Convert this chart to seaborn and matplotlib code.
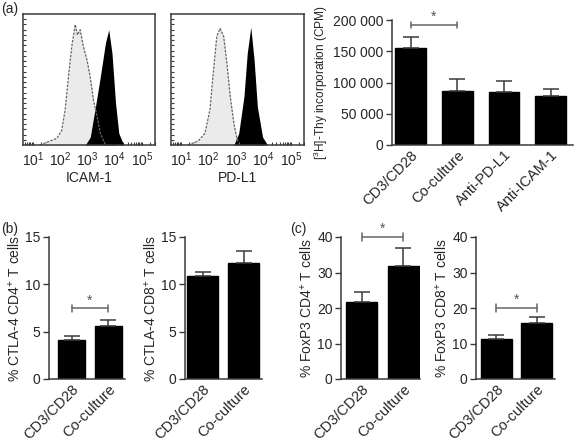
import numpy as np
import matplotlib
matplotlib.use("Agg")
import matplotlib.pyplot as plt
import seaborn as sns

sns.set_theme(style="white")
plt.rcParams['font.family'] = ['Liberation Sans', 'DejaVu Sans']
plt.rcParams['mathtext.fontset'] = 'custom'
plt.rcParams['mathtext.rm'] = 'Liberation Sans'
plt.rcParams['mathtext.it'] = 'Liberation Sans'

# ---- data ----
# flow histograms: log10 fluorescence vs relative count
icam_iso_x = [1.25, 1.62, 1.87, 2.05, 2.18, 2.30, 2.42, 2.55, 2.63, 2.73, 2.85, 2.98, 3.10, 3.22, 3.35, 3.47, 3.66]
icam_iso_y = [0.0, 0.03, 0.05, 0.11, 0.27, 0.52, 0.75, 0.92, 0.84, 0.88, 0.75, 0.65, 0.52, 0.34, 0.22, 0.09, 0.0]
icam_x = [2.92, 3.10, 3.29, 3.47, 3.66, 3.78, 3.90, 4.03, 4.15, 4.33]
icam_y = [0.0, 0.06, 0.29, 0.52, 0.78, 0.88, 0.70, 0.32, 0.09, 0.0]
pdl1_iso_x = [1.25, 1.62, 1.87, 2.05, 2.18, 2.30, 2.42, 2.55, 2.67, 2.79, 2.92, 3.04, 3.16]
pdl1_iso_y = [0.0, 0.03, 0.09, 0.27, 0.57, 0.83, 0.89, 0.83, 0.62, 0.37, 0.17, 0.04, 0.0]
pdl1_x = [2.92, 3.10, 3.29, 3.41, 3.54, 3.66, 3.78, 3.97, 4.15]
pdl1_y = [0.0, 0.09, 0.37, 0.70, 0.90, 0.65, 0.29, 0.06, 0.0]

prolif_groups = ["CD3/CD28", "Co-culture", "Anti-PD-L1", "Anti-ICAM-1"]
prolif_mean = [154700, 86900, 85300, 78400]
prolif_err = [18600, 18100, 16600, 11700]

two_groups = ["CD3/CD28", "Co-culture"]
ctla4_cd4 = [4.1, 5.6]
ctla4_cd4_err = [0.42, 0.63]
ctla4_cd8 = [10.9, 12.3]
ctla4_cd8_err = [0.37, 1.2]
foxp3_cd4 = [21.6, 31.9]
foxp3_cd4_err = [3.0, 5.0]
foxp3_cd8 = [11.4, 15.9]
foxp3_cd8_err = [1.0, 1.7]

W, H = 577, 442
fig = plt.figure(figsize=(W / 100, H / 100), dpi=100)
FS = 10
GREY = '#3a3a3a'


def px_axes(l, t, r, b):
    return fig.add_axes([l / W, 1 - b / H, (r - l) / W, (b - t) / H])


def hist_panel(ax, xi, yi, xs, ys, label):
    ax.fill_between(xi, yi, color='#ebebeb', lw=0)
    ax.plot(xi, yi, color='#666666', lw=0.9, ls=(0, (2, 1)))
    ax.fill_between(xs, ys, color='black', lw=0)
    ax.set_xlim(0.63, 5.48)
    ax.set_ylim(0, 1.0)
    ax.set_xticks([1, 2, 3, 4, 5])
    ax.set_xticklabels([f"$10^{{{k}}}$" for k in range(1, 6)], fontsize=FS)
    minor = np.log10(np.outer(10.0 ** np.arange(0, 6), np.arange(2, 10)).ravel())
    ax.set_xticks(minor[(minor > 0.63) & (minor < 5.48)], minor=True)
    ax.set_yticks(np.arange(0.04, 1.0, 0.04))
    ax.set_yticklabels([])
    ax.tick_params(axis='y', direction='in', length=2.5, width=0.8, color=GREY, left=True)
    ax.tick_params(axis='x', which='both', direction='in', length=2, width=0.8, color=GREY,
                   bottom=True, pad=4)
    ax.set_xlabel(label, fontsize=FS, labelpad=1)
    for s in ax.spines.values():
        s.set_color(GREY)
        s.set_linewidth(1.1)


def bar_panel(ax, groups, vals, errs, ymax, step, xlim, width, ylabel, fmt=None, ylfs=FS):
    sns.barplot(x=groups, y=vals, color='black', width=width, ax=ax,
                saturation=1, edgecolor='black', errorbar=None)
    ax.errorbar(range(len(vals)), vals, yerr=[np.zeros(len(vals)), errs], fmt='none',
                ecolor=GREY, elinewidth=1.1, capsize=6, capthick=1.1)
    ax.set_ylim(0, ymax)
    ax.set_xlim(*xlim)
    ticks = np.arange(0, ymax + 1, step)
    ax.set_yticks(ticks)
    if fmt:
        ax.set_yticklabels([fmt(t) for t in ticks])
    ax.tick_params(axis='y', direction='out', length=4, width=1.0, color=GREY,
                   labelsize=FS, pad=2, left=True)
    ax.tick_params(axis='x', length=0, labelsize=10.5, pad=2)
    plt.setp(ax.get_xticklabels(), rotation=45, ha='right', rotation_mode='anchor')
    ax.set_ylabel(ylabel, fontsize=ylfs, labelpad=2)
    sns.despine(ax=ax)
    for s in ('left', 'bottom'):
        ax.spines[s].set_color(GREY)
        ax.spines[s].set_linewidth(1.1)
    ax.spines['left'].set_bounds(0, ymax)
    ax.grid(False)


def bracket(ax, x0, x1, y, dy):
    ax.plot([x0, x1], [y, y], color='#666666', lw=1.1, clip_on=False)
    ax.plot([x0, x0], [y - dy, y + dy], color='#666666', lw=1.1, clip_on=False)
    ax.plot([x1, x1], [y - dy, y + dy], color='#666666', lw=1.1, clip_on=False)
    ax.text((x0 + x1) / 2, y + dy * 0.3, "*", ha='center', va='bottom', fontsize=FS,
            color='#555555', clip_on=False)


# (a) histograms
ax1 = px_axes(23, 14, 155, 145)
hist_panel(ax1, icam_iso_x, icam_iso_y, icam_x, icam_y, "ICAM-1")
ax2 = px_axes(171, 14, 304, 145)
hist_panel(ax2, pdl1_iso_x, pdl1_iso_y, pdl1_x, pdl1_y, "PD-L1")

# (a) proliferation
ax3 = px_axes(392, 20, 573, 145)
bar_panel(ax3, prolif_groups, prolif_mean, prolif_err, 200000, 50000, (-0.4, 3.48), 0.66,
          "[$^{3}$H]-Thy incorporation (CPM)",
          fmt=lambda t: "0" if t == 0 else f"{int(t):,}".replace(",", " "), ylfs=8.6)
bracket(ax3, 0, 1, 192000, 5000)

# (b) CTLA-4
ax4 = px_axes(49, 237, 125, 379)
bar_panel(ax4, two_groups, ctla4_cd4, ctla4_cd4_err, 15, 5, (-0.61, 1.45), 0.73,
          "% CTLA-4 CD4$^{+}$ T cells")
bracket(ax4, 0, 1, 7.45, 0.4)
ax5 = px_axes(185, 237, 262, 379)
bar_panel(ax5, two_groups, ctla4_cd8, ctla4_cd8_err, 15, 5, (-0.43, 1.45), 0.76,
          "% CTLA-4 CD8$^{+}$ T cells")

# (c) FoxP3
ax6 = px_axes(341, 237, 420, 379)
bar_panel(ax6, two_groups, foxp3_cd4, foxp3_cd4_err, 40, 10, (-0.5, 1.4), 0.75,
          "% FoxP3 CD4$^{+}$ T cells")
bracket(ax6, 0, 1, 40, 1.0)
ax7 = px_axes(476, 237, 555, 379)
bar_panel(ax7, two_groups, foxp3_cd8, foxp3_cd8_err, 40, 10, (-0.5, 1.45), 0.76,
          "% FoxP3 CD8$^{+}$ T cells")
bracket(ax7, 0, 1, 20, 1.0)

fig.text(1 / W, 1 - 2 / H, "(a)", fontsize=FS, va='top', ha='left')
fig.text(1 / W, 1 - 222 / H, "(b)", fontsize=FS, va='top', ha='left')
fig.text(290 / W, 1 - 222 / H, "(c)", fontsize=FS, va='top', ha='left')

fig.savefig("out.png", dpi=100)
